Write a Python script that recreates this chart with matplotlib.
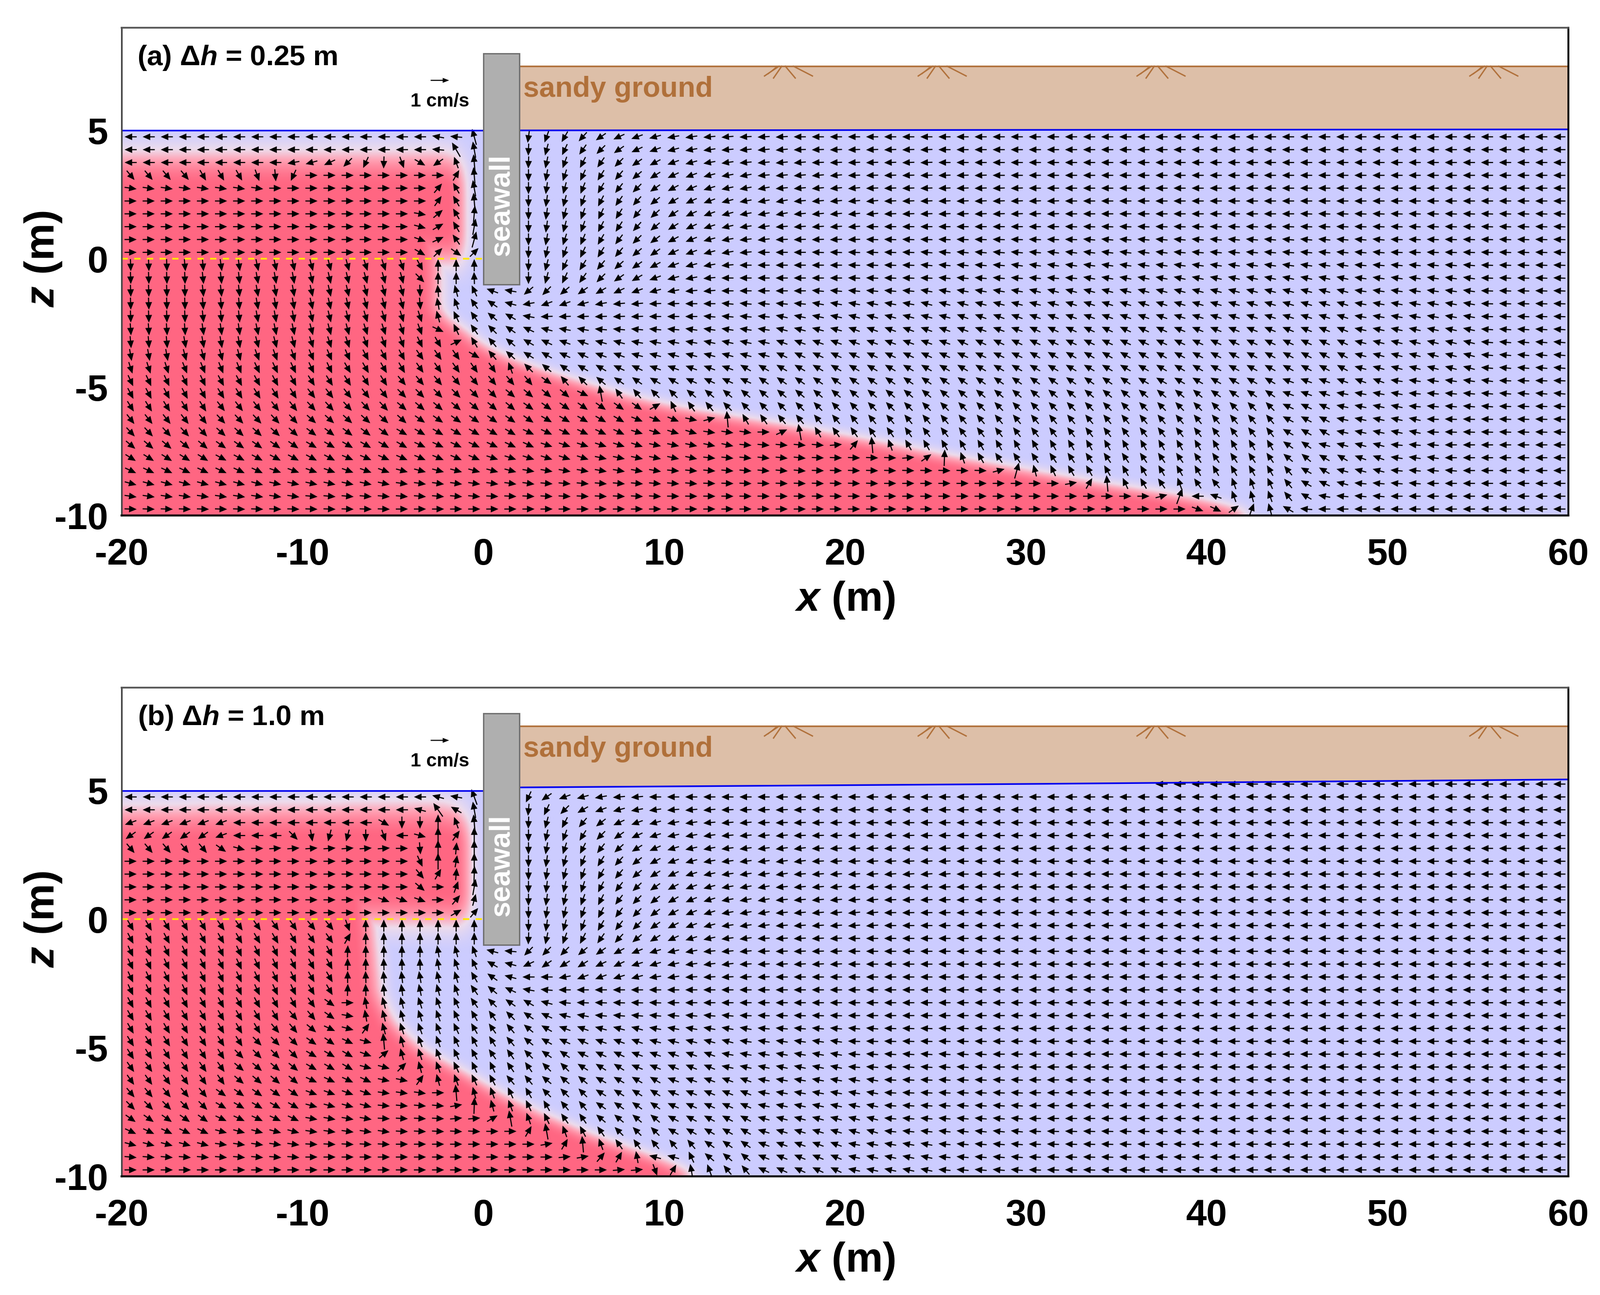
import numpy as np
import matplotlib
matplotlib.use('Agg')
import matplotlib.pyplot as plt
from matplotlib.colors import LinearSegmentedColormap
from matplotlib.path import Path

nan = float('nan')

# arrow grid
x_cols = np.arange(-19.5, 60.0, 1.0)
z_rows_a = [4.75, 4.25, 3.75, 3.25, 2.75, 2.25, 1.75, 1.25, 0.75, 0.25, -0.25, -0.75, -1.25, -1.75, -2.25,
            -2.75, -3.25, -3.75, -4.25, -4.75, -5.25, -5.75, -6.25, -6.75, -7.25, -7.75, -8.25, -8.75, -9.25, -9.75]
z_rows_b = [5.25] + z_rows_a

# arrow direction in degrees on each row: (applies up to this x, angle)
angles_a = [
    [(-3,180),(-2,170),(-1,175),(0,105),(2,180),(3,262),(4,250),(5,240),(6,228),(7,215),(8,205),(9,200),(10,195),(11,190),(12,188),(14,185),(17,183),(60,180)],
    [(-3,180),(-2,175),(-1,120),(0,100),(2,180),(3,268),(4,255),(5,245),(6,235),(7,225),(8,215),(9,205),(10,200),(11,195),(12,190),(13,188),(17,185),(25,182),(60,180)],
    [(-11,180),(-10,190),(-9,195),(-8,205),(-7,225),(-6,245),(-5,268),(-4,290),(-3,330),(-2,215),(-1,110),(0,95),(2,180),(3,268),(4,258),(5,250),(6,243),(7,235),(8,225),(9,215),(10,208),(11,200),(12,195),(13,190),(14,188),(18,185),(25,182),(60,180)],
    [(-16,-50),(-13,-60),(-12,-70),(-11,-85),(-10,245),(-2,0),(-1,60),(0,95),(2,180),(3,270),(4,260),(5,252),(6,245),(7,238),(8,230),(9,220),(10,212),(11,205),(12,200),(13,195),(15,190),(20,185),(28,182),(60,180)],
    [(-12,-8),(-3,0),(-2,50),(-1,120),(0,100),(2,180),(3,270),(4,262),(5,255),(6,248),(7,240),(8,232),(9,225),(10,215),(11,208),(12,202),(13,197),(14,192),(16,190),(21,185),(30,182),(60,180)],
    [(-3,0),(-2,55),(-1,120),(0,95),(2,180),(3,270),(4,262),(5,255),(6,250),(7,243),(8,235),(9,228),(10,218),(11,210),(12,205),(13,200),(14,195),(17,190),(22,185),(32,182),(60,180)],
    [(-4,0),(-3,-10),(-2,40),(-1,120),(0,85),(2,180),(3,270),(4,262),(5,255),(6,250),(7,245),(8,238),(9,230),(10,222),(11,213),(12,205),(13,200),(14,195),(17,190),(22,185),(32,182),(45,180),(60,178)],
    [(-4,0),(-3,-15),(-2,30),(-1,120),(0,80),(2,180),(3,270),(4,262),(5,255),(6,250),(7,243),(8,237),(9,228),(10,220),(11,212),(12,205),(13,198),(14,193),(16,188),(21,184),(32,180),(60,178)],
    [(-4,0),(-3,-20),(-2,25),(-1,125),(0,75),(2,180),(3,270),(4,260),(5,252),(6,247),(7,240),(8,233),(9,224),(10,217),(11,208),(12,202),(13,195),(14,190),(16,186),(21,182),(33,178),(50,175),(60,178)],
    [(-4,0),(-3,-30),(-2,45),(-1,-35),(0,45),(2,180),(3,268),(4,258),(5,250),(6,245),(7,238),(8,230),(9,220),(10,215),(11,205),(12,200),(13,195),(14,190),(15,185),(18,180),(24,178),(31,175),(38,173),(50,175),(60,178)],
    [(-17,-88),(-15,-85),(-13,-82),(-10,-78),(-7,-75),(-4,-72),(-3,-62),(0,90),(2,180),(3,268),(4,255),(5,245),(6,238),(7,230),(8,222),(9,215),(10,208),(11,200),(12,195),(13,190),(14,185),(20,180),(24,178),(29,175),(33,172),(48,172),(55,175),(60,178)],
    [(-16,-88),(-13,-84),(-10,-80),(-7,-77),(-4,-75),(-3,-45),(-1,90),(0,92),(2,180),(3,270),(4,255),(5,245),(6,235),(7,225),(8,215),(9,210),(10,200),(11,195),(12,190),(13,185),(20,180),(25,178),(33,175),(38,170),(48,168),(55,172),(60,178)],
    [(-16,-88),(-13,-84),(-10,-80),(-7,-77),(-4,-75),(-3,-88),(-2,95),(-1,105),(0,115),(1,160),(2,170),(3,220),(4,225),(5,220),(6,215),(7,210),(8,205),(9,200),(10,195),(11,190),(13,185),(18,180),(24,175),(30,170),(38,165),(48,165),(55,172),(60,178)],
    [(-16,-88),(-13,-85),(-10,-80),(-7,-77),(-4,-75),(-3,-85),(-2,100),(-1,110),(0,125),(1,145),(2,165),(3,190),(4,200),(5,200),(6,195),(7,190),(9,185),(11,182),(13,180),(18,175),(24,170),(32,165),(38,162),(48,163),(55,170),(60,178)],
    [(-16,-88),(-13,-84),(-10,-80),(-7,-76),(-4,-73),(-3,-72),(-2,105),(-1,115),(0,125),(1,140),(2,150),(3,170),(9,182),(12,180),(16,175),(20,168),(26,165),(38,160),(48,162),(55,170),(60,178)],
    [(-16,-86),(-13,-82),(-10,-78),(-7,-75),(-4,-72),(-3,-70),(-2,-25),(-1,115),(0,125),(1,135),(2,145),(3,155),(4,165),(6,170),(11,175),(16,172),(20,165),(30,160),(38,155),(48,158),(55,168),(60,176)],
    [(-17,-85),(-13,-80),(-10,-75),(-7,-72),(-4,-70),(-3,-65),(-2,-60),(-1,25),(0,120),(1,130),(2,140),(3,150),(4,155),(6,160),(8,165),(12,170),(16,168),(26,160),(38,155),(48,155),(55,166),(60,175)],
    [(-17,-80),(-13,-75),(-10,-70),(-7,-67),(-4,-62),(-1,-55),(0,-30),(1,130),(2,138),(3,148),(4,150),(6,155),(8,160),(16,165),(30,155),(38,150),(48,152),(55,165),(60,175)],
    [(-17,-72),(-13,-68),(-8,-65),(-4,-60),(1,-55),(2,110),(3,135),(4,140),(5,145),(7,150),(9,155),(14,160),(32,150),(40,150),(48,152),(55,165),(60,175)],
    [(-15,-65),(-10,-62),(-5,-58),(3,-50),(4,-35),(5,130),(6,135),(7,140),(9,145),(11,150),(15,155),(36,145),(44,150),(50,160),(56,172),(60,178)],
    [(-15,-62),(-10,-58),(-5,-52),(1,-45),(5,-40),(6,-25),(7,100),(8,125),(9,130),(11,135),(14,140),(40,140),(44,145),(47,160),(51,170),(60,175)],
    [(-15,-58),(-10,-52),(-5,-47),(2,-40),(9,-35),(10,30),(11,115),(12,125),(13,130),(15,135),(44,135),(47,155),(51,168),(56,175),(60,178)],
    [(-15,-52),(-10,-47),(-4,-42),(3,-35),(8,-30),(11,-22),(12,-12),(13,15),(14,95),(15,120),(16,125),(44,130),(47,152),(52,168),(60,178)],
    [(-15,-47),(-10,-42),(-5,-37),(2,-30),(8,-25),(12,-17),(15,-8),(16,0),(17,25),(18,100),(19,120),(24,125),(44,128),(47,150),(52,168),(60,178)],
    [(-15,-40),(-10,-35),(-4,-30),(3,-25),(9,-18),(14,-12),(19,-5),(20,5),(21,50),(22,95),(23,110),(44,120),(46,145),(50,165),(53,175),(60,180)],
    [(-15,-32),(-8,-28),(0,-23),(6,-18),(12,-12),(18,-6),(23,-2),(24,5),(25,35),(26,88),(27,110),(28,120),(44,125),(46,140),(48,150),(50,160),(53,172),(60,180)],
    [(-12,-25),(-5,-20),(2,-15),(10,-10),(18,-5),(28,-2),(29,15),(30,75),(31,105),(32,115),(44,120),(45,130),(47,150),(50,165),(54,175),(60,180)],
    [(-12,-15),(-5,-12),(3,-8),(12,-5),(22,-2),(32,0),(33,10),(34,60),(35,95),(36,115),(37,120),(38,125),(39,110),(40,125),(41,130),(42,110),(43,110),(44,115),(45,130),(46,150),(47,155),(48,165),(52,175),(60,180)],
    [(-10,-8),(0,-5),(10,-3),(20,-1),(37,0),(38,15),(39,70),(40,180),(41,160),(42,110),(43,105),(44,110),(45,130),(46,150),(47,170),(50,175),(60,180)],
    [(-5,-2),(39,0),(40,-20),(41,-25),(42,35),(43,70),(44,105),(45,150),(46,175),(60,180)],
]

angles_b = [
    [(37,nan),(60,180)],
    [(-3,180),(-2,165),(-1,170),(0,110),(2,180),(3,245),(4,215),(5,200),(6,195),(7,190),(9,185),(60,180)],
    [(-4,180),(-3,165),(-2,125),(-1,150),(0,100),(2,180),(3,265),(4,245),(5,225),(6,210),(7,200),(8,195),(9,190),(10,188),(13,185),(18,182),(60,180)],
    [(-14,200),(-6,180),(-5,-30),(-4,270),(-3,270),(-2,90),(-1,110),(0,95),(2,180),(3,268),(4,255),(5,243),(6,230),(7,218),(8,205),(9,200),(10,195),(11,190),(12,188),(15,185),(20,182),(60,180)],
    [(-15,215),(-14,200),(-11,180),(-10,-45),(-9,-80),(-8,255),(-7,255),(-6,270),(-5,-70),(-4,180),(-3,-15),(-2,90),(-1,55),(0,90),(2,180),(3,270),(4,258),(5,250),(6,238),(7,225),(8,215),(9,205),(10,198),(11,192),(12,190),(13,188),(17,185),(24,182),(60,180)],
    [(-15,-50),(-14,-35),(-13,-15),(-12,0),(-5,4),(-4,0),(-3,-85),(-2,90),(-1,85),(0,90),(2,180),(3,270),(4,260),(5,252),(6,243),(7,232),(8,222),(9,212),(10,204),(11,197),(12,192),(13,190),(18,187),(26,183),(60,180)],
    [(-4,0),(-3,-65),(-2,90),(-1,80),(0,90),(2,180),(3,270),(4,262),(5,255),(6,248),(7,238),(8,228),(9,218),(10,208),(11,200),(12,195),(13,190),(18,187),(26,183),(60,180)],
    [(-4,0),(-3,-50),(-2,60),(-1,85),(0,88),(2,180),(3,270),(4,262),(5,255),(6,250),(7,240),(8,230),(9,220),(10,212),(11,205),(12,197),(13,192),(17,188),(26,184),(60,180)],
    [(-4,0),(-3,-40),(-2,0),(-1,70),(0,80),(2,180),(3,270),(4,263),(5,257),(6,252),(7,243),(8,232),(9,223),(10,215),(11,208),(12,200),(13,195),(16,190),(22,185),(30,182),(60,180)],
    [(-6,0),(-3,-20),(-2,0),(-1,50),(0,75),(2,180),(3,270),(4,262),(5,257),(6,250),(7,243),(8,233),(9,225),(10,218),(11,210),(12,203),(13,197),(16,190),(22,185),(30,182),(60,180)],
    [(-2,0),(-1,30),(0,50),(2,180),(3,270),(4,262),(5,257),(6,250),(7,243),(8,233),(9,225),(10,217),(11,208),(12,202),(13,197),(16,190),(22,185),(32,181),(60,180)],
    [(-15,-60),(-10,-55),(-8,-50),(-7,-70),(0,90),(2,180),(3,270),(4,262),(5,255),(6,250),(7,240),(8,232),(9,224),(10,215),(11,207),(12,200),(13,195),(16,188),(22,184),(60,180)],
    [(-15,-62),(-10,-60),(-8,-55),(-7,60),(0,90),(2,180),(3,268),(4,258),(5,250),(6,243),(7,235),(8,227),(9,220),(10,212),(11,205),(12,197),(13,192),(15,187),(20,183),(60,180)],
    [(-10,-65),(-8,-62),(-7,88),(-3,90),(-2,100),(-1,105),(0,110),(1,165),(2,175),(3,225),(5,225),(6,220),(7,215),(8,208),(9,202),(10,197),(11,193),(12,190),(15,185),(20,182),(60,180)],
    [(-10,-65),(-8,-62),(-6,90),(-3,92),(-2,100),(-1,110),(0,115),(1,150),(2,165),(3,205),(4,215),(6,212),(8,205),(10,197),(11,192),(14,187),(20,183),(60,180)],
    [(-10,-65),(-8,-60),(-7,90),(-6,92),(-5,95),(-4,97),(-3,100),(-2,103),(-1,107),(0,120),(1,145),(2,165),(4,180),(5,190),(7,200),(8,197),(9,195),(11,188),(16,183),(60,180)],
    [(-10,-65),(-8,-60),(-7,88),(-6,92),(-5,95),(-4,98),(-3,102),(-2,105),(-1,110),(0,125),(1,140),(2,155),(3,170),(4,175),(15,180),(60,180)],
    [(-10,-62),(-9,-55),(-8,-35),(-7,0),(-6,100),(-4,105),(-3,108),(-2,110),(-1,115),(0,125),(1,135),(2,145),(3,150),(4,165),(5,175),(10,178),(60,180)],
    [(-11,-60),(-9,-50),(-8,-35),(-7,-10),(-6,100),(-4,105),(-3,108),(-2,110),(-1,115),(0,120),(1,125),(2,135),(3,145),(4,155),(5,165),(6,170),(14,175),(20,178),(60,180)],
    [(-12,-60),(-10,-50),(-9,-40),(-8,-25),(-7,-15),(-6,55),(-5,105),(-4,108),(-3,110),(-2,112),(-1,115),(0,120),(1,125),(2,130),(3,140),(4,150),(6,160),(9,165),(15,170),(22,175),(30,178),(60,180)],
    [(-13,-58),(-10,-45),(-8,-35),(-7,-25),(-6,-15),(-5,95),(-4,105),(-3,110),(-2,110),(-1,115),(0,118),(1,122),(2,130),(3,140),(4,150),(6,155),(9,160),(14,165),(20,172),(28,178),(60,180)],
    [(-14,-58),(-10,-45),(-7,-30),(-6,-20),(-5,40),(-4,105),(-3,108),(-2,110),(-1,115),(0,118),(2,125),(3,135),(5,145),(8,155),(13,160),(20,170),(28,176),(60,180)],
    [(-14,-55),(-10,-40),(-7,-30),(-5,-15),(-4,45),(-3,105),(-2,110),(-1,115),(1,115),(3,125),(5,135),(8,148),(13,158),(20,168),(28,176),(60,180)],
    [(-14,-55),(-10,-40),(-6,-25),(-4,-12),(-3,55),(-2,105),(-1,110),(0,115),(1,118),(3,130),(6,140),(10,150),(15,160),(22,170),(30,177),(60,180)],
    [(-15,-50),(-10,-35),(-6,-20),(-3,-8),(-2,0),(-1,95),(0,105),(1,110),(2,115),(3,120),(6,135),(10,148),(15,158),(22,170),(30,177),(60,180)],
    [(-15,-45),(-10,-30),(-6,-15),(-2,-5),(-1,10),(0,88),(1,105),(2,110),(3,115),(4,120),(6,130),(10,145),(15,156),(22,168),(30,176),(60,180)],
    [(-15,-35),(-10,-25),(-6,-10),(-2,-3),(0,5),(1,30),(2,100),(3,110),(4,115),(6,125),(10,140),(15,152),(22,165),(30,175),(60,180)],
    [(-15,-25),(-10,-15),(-5,-8),(0,-3),(2,0),(3,60),(4,100),(5,110),(6,118),(7,125),(10,135),(15,150),(22,163),(30,174),(40,178),(60,180)],
    [(-15,-15),(-10,-8),(-5,-3),(3,0),(4,10),(5,60),(6,95),(7,110),(9,125),(12,130),(15,145),(20,160),(25,170),(30,175),(40,178),(60,180)],
    [(-10,-5),(4,0),(5,5),(6,10),(7,50),(8,60),(9,100),(11,165),(12,115),(15,140),(20,158),(25,168),(30,175),(40,178),(60,180)],
    [(7,0),(9,5),(10,-70),(11,60),(12,100),(13,110),(15,130),(20,155),(25,168),(30,175),(40,178),(60,180)],
]

# the few longer arrows: (x, z)
long_arrows_a = [(-0.5, 4.75), (-0.5, 4.25), (-1.5, 4.25), (-0.5, 3.75), (-0.5, 3.25), (-0.5, 2.75), (-0.5, 2.25), (-0.5, 1.75), (-0.5, 1.25), (-0.5, 0.75),
                 (6.5, -5.25), (13.5, -6.25), (17.5, -6.75), (21.5, -7.25), (25.5, -7.75), (29.5, -8.25), (34.5, -8.75), (38.5, -9.25)]
long_arrows_b = [(-0.5, 4.75), (-0.5, 4.25), (-2.5, 4.25), (-2.5, 3.75), (-2.5, 3.25), (-2.5, 2.75), (-2.5, 2.25), (-0.5, 3.75), (-0.5, 3.25), (-0.5, 2.75), (-0.5, 2.25),
                 (-0.5, 1.75), (-0.5, 1.25), (-5.5, -4.75), (-1.5, -6.75), (-0.5, -7.25), (1.5, -7.75), (3.5, -8.25), (5.5, -8.75)]

# salt water outlines
wedge_x_a = [-20.5, -2.5, -2.5, -2.0, -1.25, -0.2, 1.35, 2.9, 5.2, 7.5, 10.6, 14.0, 17.4, 21.3, 25.6, 29.9, 34.2, 38.0, 40.5, 42.0, 42.3, -20.5]
wedge_z_a = [1.5, 1.5, -2.0, -2.4, -2.75, -3.35, -3.9, -4.3, -4.8, -5.3, -5.8, -6.2, -6.6, -7.1, -7.7, -8.25, -8.8, -9.2, -9.55, -9.85, -10.5, -10.5]
layer_x_a = [-20.5, -1.1, -1.1, -1.6, -2.5, -20.5]
layer_z_a = [-0.15, -0.15, 3.5, 3.9, 4.05, 4.05]

wedge_x_b = [-20.5, -6.2, -6.2, -5.87, -5.05, -3.6, -1.34, 0.7, 3.0, 5.65, 8.3, 10.2, 11.2, 11.8, -20.5]
wedge_z_b = [1.5, 1.5, -0.44, -2.94, -4.06, -5.05, -5.9, -6.76, -7.55, -8.34, -9.0, -9.5, -9.84, -10.5, -10.5]
layer_x_b = [-20.5, -0.85, -0.85, -1.3, -2.5, -8.0, -20.5]
layer_z_b = [-0.15, -0.15, 3.7, 4.15, 4.4, 4.35, 4.2]

# water table
water_x_a = [2, 31, 60]
water_z_a = [5.0, 5.02, 5.04]
water_x_b = [2, 31, 60]
water_z_b = [5.12, 5.26, 5.43]

grass_x = [16.6, 25.1, 37.2, 55.6]

x_ticks = [-20, -10, 0, 10, 20, 30, 40, 50, 60]
z_ticks = [-10, -5, 0, 5]

plt.rcParams['font.family'] = ['Liberation Sans', 'DejaVu Sans']
plt.rcParams['font.weight'] = 'bold'
plt.rcParams['axes.unicode_minus'] = False
plt.rcParams['mathtext.fontset'] = 'custom'
plt.rcParams['mathtext.it'] = 'Liberation Sans:italic:bold'
plt.rcParams['mathtext.rm'] = 'Liberation Sans:bold'

salt_cmap = LinearSegmentedColormap.from_list('salt', [(0, '#CCCCFF'), (0.35, '#EDDCEC'), (0.65, '#FFA3B5'), (1, '#FF6682')])
SAND = '#DDBFA8'
BROWN = '#B0703A'
W, H = 3290.0, 2663.0


def blur(mask, nx, nz):
    # box blur, twice, so that the edge of the polygon goes soft
    out = mask.astype(float)
    for axis, n in ((1, nx), (0, nz)):
        kernel = np.ones(n) / n
        for _ in range(2):
            pad = [(0, 0), (0, 0)]
            pad[axis] = (n, n)
            padded = np.pad(out, pad, mode='edge')
            out = np.apply_along_axis(lambda m: np.convolve(m, kernel, mode='same'), axis, padded)
            out = out[n:-n, :] if axis == 0 else out[:, n:-n]
    return out


def salt_field(wx, wz, lx, lz):
    gx = np.arange(-20, 60.001, 0.1)
    gz = np.arange(-10, 5.6, 0.05)
    xx, zz = np.meshgrid(gx, gz)
    pts = np.column_stack([xx.ravel(), zz.ravel()])
    wedge = Path(np.column_stack([wx, wz])).contains_points(pts).reshape(xx.shape)
    layer = Path(np.column_stack([lx, lz])).contains_points(pts).reshape(xx.shape)
    return np.maximum(blur(wedge, 12, 11), blur(layer, 10, 26))


def expand(row):
    out = []
    for x in x_cols:
        for x_end, ang in row:
            if x < x_end:
                out.append(ang)
                break
    return out


def draw_arrows(ax, rows, z_rows, long_arrows):
    xs, zs, ang, size = [], [], [], []
    for z, row in zip(z_rows, rows):
        for x, a in zip(x_cols, expand(row)):
            if a != a:
                continue
            xs.append(x)
            zs.append(z)
            ang.append(np.deg2rad(a))
            size.append(34 if (x, z) in long_arrows else 25)
    ang = np.array(ang)
    size = np.array(size)
    ax.quiver(xs, zs, size * np.cos(ang), size * np.sin(ang), angles='uv', scale_units='dots', scale=1,
              units='dots', width=2.3, headwidth=6.0, headlength=6.8, headaxislength=6.8, minlength=0,
              pivot='mid', color='black', zorder=4)


def draw_panel(box, label, rows, z_rows, long_arrows, field, water_x, water_z, key_x, label_x):
    left, right, top, bottom = box
    ax = fig.add_axes([left / W, 1 - bottom / H, (right - left) / W, (bottom - top) / H])
    ax.imshow(field, extent=[-20, 60, -10, 5.55], origin='lower', aspect='auto', cmap=salt_cmap, vmin=0, vmax=1,
              interpolation='bilinear', zorder=1)
    ax.fill_between([-20, 2], 5, 9, color='white', lw=0, zorder=2)
    ax.fill_between(water_x, water_z, 9, color='white', lw=0, zorder=2)
    ax.fill_between(water_x, water_z, 7.5, color=SAND, lw=0, zorder=3)
    ax.plot([2, 60], [7.5, 7.5], color=BROWN, lw=2.4, zorder=6)
    ax.plot([-20, 0], [5, 5], color='#0000EE', lw=2.4, zorder=5)
    ax.plot(water_x, water_z, color='#0000EE', lw=2.4, zorder=5)
    ax.plot([-20, 0], [0, 0], color='#FFE800', lw=2.6, ls=(0, (3.6, 3.6)), zorder=5)

    draw_arrows(ax, rows, z_rows, long_arrows)

    for gx in grass_x:
        for dx0, dx1, dz in [(-0.25, -1.05, 0.38), (-0.1, -0.55, 0.46), (0.1, 0.65, 0.46), (0.55, 1.6, 0.38)]:
            ax.plot([gx + dx0, gx + dx1], [7.5, 7.5 - dz], color=BROWN, lw=2.0, zorder=6)
        ax.plot([gx - 0.35, gx - 0.85], [7.5, 7.2], color=BROWN, lw=1.4, zorder=6)

    ax.fill([0, 2, 2, 0], [-1, -1, 8, 8], facecolor='#AFAFAF', edgecolor='#6E6E6E', lw=2.0, zorder=7)
    ax.text(1.0, 0.12, 'seawall', color='white', fontsize=42.5, rotation=90, ha='center', va='bottom', zorder=8)
    ax.text(2.2, 6.6, 'sandy ground', color=BROWN, fontsize=42.5, ha='left', va='center', zorder=8)
    ax.text(label_x, 7.82, label, fontsize=42, ha='left', va='center', zorder=8)
    ax.text(key_x, 6.12, '1 cm/s', fontsize=28, ha='center', va='center', zorder=8)
    ax.quiver([key_x], [6.95], [38], [0], angles='uv', scale_units='dots', scale=1, units='dots', width=2.2,
              headwidth=4.6, headlength=6, headaxislength=6, pivot='mid', color='black', zorder=8)

    ax.set_xlim(-20, 60)
    ax.set_ylim(-10, 9)
    ax.set_xticks(x_ticks)
    ax.set_yticks(z_ticks)
    ax.tick_params(axis='x', length=0, labelsize=55, pad=33)
    ax.tick_params(axis='y', length=0, labelsize=55, pad=20)
    for name, col, lw in (('top', '#555555', 2.6), ('left', '#444444', 2.4), ('right', 'black', 2.8), ('bottom', 'black', 3.0)):
        ax.spines[name].set_color(col)
        ax.spines[name].set_linewidth(lw)
        ax.spines[name].set_zorder(9)
    ax.set_xlabel('$\\mathit{x}$ (m)', fontsize=62, fontweight='bold', labelpad=11)
    ax.set_ylabel('$\\mathit{z}$ (m)', fontsize=62, fontweight='bold')
    ax.yaxis.set_label_coords(-0.04, 0.526)
    return ax


fig = plt.figure(figsize=(32.9, 26.63), dpi=100, facecolor='white')

draw_panel((250, 3225, 57, 1060), '(a) Δ$\\mathit{h}$ = 0.25 m', angles_a, z_rows_a, long_arrows_a,
           salt_field(wedge_x_a, wedge_z_a, layer_x_a, layer_z_a), water_x_a, water_z_a, -2.4, -19.15)
draw_panel((250, 3225, 1414, 2419), '(b) Δ$\\mathit{h}$ = 1.0 m', angles_b, z_rows_b, long_arrows_b,
           salt_field(wedge_x_b, wedge_z_b, layer_x_b, layer_z_b), water_x_b, water_z_b, -2.4, -19.1)

fig.savefig('out.png', dpi=100)
